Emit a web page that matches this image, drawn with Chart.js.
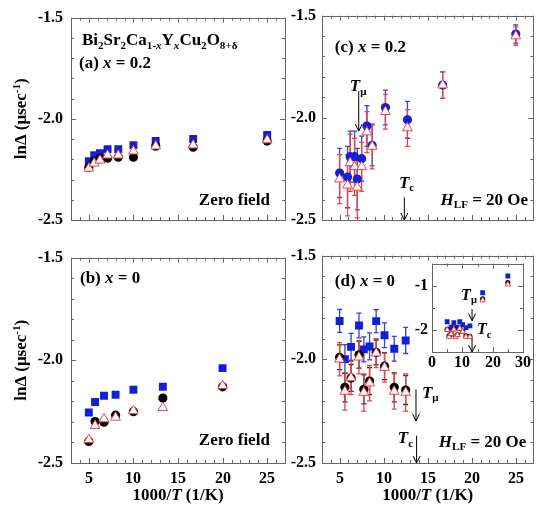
<!DOCTYPE html>
<html lang="en">
<head>
<meta charset="UTF-8">
<title>lnΔ vs 1000/T</title>
<script src="https://cdn.jsdelivr.net/npm/chart.js"></script>
<style>
    body { margin: 0; background: #fff; }
    #wrap { position: relative; width: 540px; height: 510px; }
    canvas { position: absolute; }
</style>
</head>
<body>
<div id="wrap">
    <canvas id="pa" width="300" height="240" style="left:0;top:0"></canvas>
    <canvas id="pc" width="255" height="240" style="left:285px;top:0"></canvas>
    <canvas id="pb" width="300" height="270" style="left:0;top:240px"></canvas>
    <canvas id="pd" width="255" height="270" style="left:285px;top:240px"></canvas>
    <canvas id="pi" width="135" height="125" style="left:400px;top:250px"></canvas>
</div>
<script>
    // tick labels
    const xTicks = [5, 10, 15, 20, 25];
    const yTicks = [-2.5, -2.0, -1.5];
    const insetXTicks = [0, 10, 20, 30];
    const insetYTicks = [-2, -1];

    // (a) x = 0.2, zero field
    const aX = [5, 5.6, 6.25, 7.1, 8.3, 10, 12.5, 16.7, 25];
    const aSquare = [-2.21, -2.18, -2.17, -2.15, -2.15, -2.13, -2.11, -2.10, -2.08];
    const aCircle = [-2.24, -2.21, -2.195, -2.195, -2.19, -2.19, -2.135, -2.14, -2.11];
    const aTriangle = [-2.245, -2.22, -2.205, -2.18, -2.18, -2.16, -2.135, -2.13, -2.105];

    // (b) x = 0, zero field
    const bX = [5, 5.7, 6.7, 8, 10, 13.3, 20];
    const bSquare = [-2.254, -2.203, -2.173, -2.168, -2.143, -2.129, -2.038];
    const bCircle = [-2.395, -2.298, -2.301, -2.267, -2.25, -2.184, -2.129];
    const bTriangle = [-2.387, -2.318, -2.286, -2.278, -2.246, -2.231, -2.124];

    // (c) x = 0.2, H_LF = 20 Oe
    const cX = [5.0, 5.9, 6.2, 6.7, 7.0, 7.5, 8.1, 8.7, 10.2, 12.7, 16.7, 25];
    const cCircle = [-2.27, -2.29, -2.19, -2.19, -2.30, -2.20, -2.04, -2.135, -1.95, -2.01, -1.84, -1.59];
    const cCircleErr = [0.12, 0.15, 0.125, 0.125, 0.15, 0.11, 0.1, 0.1, 0.085, 0.09, 0.065, 0.045];
    const cTriangle = [-2.30, -2.33, -2.22, -2.24, -2.34, -2.24, -2.07, -2.14, -1.97, -2.05, -1.84, -1.60];
    const cTriangleErr = [0.12, 0.15, 0.14, 0.14, 0.15, 0.12, 0.1, 0.11, 0.085, 0.09, 0.065, 0.045];

    // (d) x = 0, H_LF = 20 Oe
    const dX = [5, 5.6, 6.3, 7.2, 7.75, 8.4, 9.15, 10.1, 11.2, 12.5];
    const dSquare = [-1.815, -1.999, -1.94, -1.837, -1.952, -1.938, -1.816, -1.884, -1.949, -1.909];
    const dSquareErr = [0.055, 0.07, 0.065, 0.06, 0.06, 0.065, 0.055, 0.06, 0.06, 0.063];
    const dCircle = [-1.99, -2.135, -2.09, -1.978, -2.145, -2.105, -1.967, -2.033, -2.135, -2.148];
    const dCircleErr = [0.06, 0.07, 0.065, 0.065, 0.07, 0.065, 0.06, 0.065, 0.07, 0.07];
    const dTriangle = [-2.0, -2.155, -2.09, -1.99, -2.16, -2.115, -1.97, -2.04, -2.155, -2.16];
    const dTriangleErr = [0.08, 0.09, 0.08, 0.08, 0.09, 0.085, 0.07, 0.07, 0.085, 0.09];

    // inset of (d): extra points at low T
    const insetX = [16.7, 25];
    const insetSquare = [-1.16, -0.78];
    const insetCircle = [-1.30, -0.93];
    const insetTriangle = [-1.33, -0.97];

    const FONT = '"Liberation Serif", "Times New Roman", serif';
    const BLUE = '#1020d8';
    const RED = '#e84545';

    function pts(xs, ys) {
        return xs.map((x, i) => ({ x: x, y: ys[i] }));
    }

    // draw a list of text runs: [text, flags]  flags: i = italic, b = subscript, p = superscript
    function drawRuns(ctx, runs, x, y, align, size) {
        const parts = runs.map(r => {
            const f = r[1] || '';
            const small = f.includes('b') || f.includes('p');
            const s = small ? size * 0.65 : size;
            const font = (f.includes('i') ? 'italic ' : '') + 'bold ' + s + 'px ' + FONT;
            ctx.font = font;
            let dy = 0;
            if (f.includes('b')) dy = size * 0.3;
            if (f.includes('p')) dy = -size * 0.3;
            return { t: r[0], font: font, w: ctx.measureText(r[0]).width, dy: dy };
        });
        const total = parts.reduce((s, p) => s + p.w, 0);
        let cx = x;
        if (align === 'right') cx = x - total;
        if (align === 'center') cx = x - total / 2;
        ctx.fillStyle = '#000';
        ctx.textBaseline = 'middle';
        ctx.textAlign = 'left';
        parts.forEach(p => {
            ctx.font = p.font;
            ctx.fillText(p.t, cx, y + p.dy);
            cx += p.w;
        });
    }

    function arrow(ctx, x, y1, y2) {
        ctx.save();
        ctx.strokeStyle = '#000';
        ctx.lineWidth = 1;
        ctx.beginPath();
        ctx.moveTo(x, y1);
        ctx.lineTo(x, y2);
        ctx.moveTo(x - 3.5, y2 - 7);
        ctx.lineTo(x, y2);
        ctx.lineTo(x + 3.5, y2 - 7);
        ctx.stroke();
        ctx.restore();
    }

    const errorPlugin = {
        id: 'errbars',
        beforeDatasetsDraw(chart) {
            const ctx = chart.ctx;
            const xs = chart.scales.x, ys = chart.scales.y;
            const sets = chart.data.datasets.slice().sort((a, b) => b.order - a.order);
            sets.forEach(ds => {
                if (!ds.errors) return;
                ctx.save();
                ctx.strokeStyle = ds.errColor;
                ctx.lineWidth = 1.3;
                ds.data.forEach((p, i) => {
                    const px = xs.getPixelForValue(p.x);
                    const y1 = ys.getPixelForValue(p.y + ds.errors[i]);
                    const y2 = ys.getPixelForValue(p.y - ds.errors[i]);
                    ctx.beginPath();
                    ctx.moveTo(px, y1); ctx.lineTo(px, y2);
                    ctx.moveTo(px - 2.5, y1); ctx.lineTo(px + 2.5, y1);
                    ctx.moveTo(px - 2.5, y2); ctx.lineTo(px + 2.5, y2);
                    ctx.stroke();
                });
                ctx.restore();
            });
        }
    };

    // frame with inward ticks on all four sides
    function framePlugin(o) {
        return {
            id: 'frame',
            beforeDatasetsDraw(chart) {
                const ctx = chart.ctx;
                const a = chart.chartArea;
                const xs = chart.scales.x, ys = chart.scales.y;
                ctx.save();
                ctx.strokeStyle = '#666';
                ctx.lineWidth = 1;
                ctx.strokeRect(Math.round(a.left) + 0.5, Math.round(a.top) + 0.5,
                    Math.round(a.right - a.left), Math.round(a.bottom - a.top));
                ctx.beginPath();
                const nx = Math.round((o.xMax - o.xMin) / o.xMinor);
                for (let k = 0; k <= nx; k++) {
                    const v = o.xMin + k * o.xMinor;
                    const major = o.xTicks.some(t => Math.abs(t - v) < 1e-6);
                    const len = major ? 5 : 3;
                    const px = Math.round(xs.getPixelForValue(v)) + 0.5;
                    ctx.moveTo(px, a.bottom); ctx.lineTo(px, a.bottom - len);
                    ctx.moveTo(px, a.top); ctx.lineTo(px, a.top + len);
                }
                const ny = Math.round((o.yMax - o.yMin) / o.yMinor);
                for (let k = 0; k <= ny; k++) {
                    const v = o.yMin + k * o.yMinor;
                    const major = o.yTicks.some(t => Math.abs(t - v) < 1e-6);
                    const len = major ? 5 : 3;
                    const py = Math.round(ys.getPixelForValue(v)) + 0.5;
                    ctx.moveTo(a.left, py); ctx.lineTo(a.left + len, py);
                    ctx.moveTo(a.right, py); ctx.lineTo(a.right - len, py);
                }
                ctx.stroke();
                ctx.restore();
            }
        };
    }

    function notesPlugin(o) {
        return {
            id: 'notes',
            afterDraw(chart) {
                const ctx = chart.ctx;
                const a = chart.chartArea;
                const xs = chart.scales.x, ys = chart.scales.y;
                ctx.save();
                (o.notes || []).forEach(n => {
                    if (n.arrow) {
                        arrow(ctx, xs.getPixelForValue(n.x), ys.getPixelForValue(n.y1), ys.getPixelForValue(n.y2));
                    } else {
                        drawRuns(ctx, n.text, xs.getPixelForValue(n.x), ys.getPixelForValue(n.y), n.align || 'left', n.size || 17);
                    }
                });
                if (o.yTitle) {
                    ctx.save();
                    ctx.translate(22, (a.top + a.bottom) / 2);
                    ctx.rotate(-Math.PI / 2);
                    drawRuns(ctx, [['lnΔ (μsec'], ['-1', 'p'], [')']], 0, 0, 'center', 17);
                    ctx.restore();
                }
                if (o.xTitle) {
                    drawRuns(ctx, [['1000/'], ['T', 'i'], [' (1/K)']], (a.left + a.right) / 2, a.bottom + 33, 'center', 17);
                }
                // x tick labels, one call for the whole row, placed through the x scale
                if (o.xLabels) {
                    ctx.fillStyle = '#000';
                    ctx.font = 'bold ' + (o.tickSize || 16) + 'px ' + FONT;
                    ctx.textAlign = 'center';
                    ctx.textBaseline = 'alphabetic';
                    o.xTicks.forEach(v => {
                        ctx.fillText(String(v), Math.round(xs.getPixelForValue(v)), a.bottom + o.xLabelGap + 6);
                    });
                }
                ctx.restore();
            }
        };
    }

    function squares(data, errs, r) {
        return { data: data, order: 2, pointStyle: 'rect', pointRadius: r || 5.6,
            backgroundColor: BLUE, borderColor: BLUE, borderWidth: 0,
            errors: errs, errColor: '#3344cc' };
    }
    function circles(data, errs, color, r) {
        return { data: data, order: 1, pointStyle: 'circle', pointRadius: r || 4.6,
            backgroundColor: color, borderColor: color, borderWidth: 0,
            errors: errs, errColor: color === '#000' ? '#222' : '#3344cc' };
    }
    function triangles(data, errs, r) {
        return { data: data, order: 0, pointStyle: 'triangle', pointRadius: r || 5.6,
            backgroundColor: '#fff', borderColor: RED, borderWidth: 1,
            errors: errs, errColor: RED };
    }

    function makePanel(id, o) {
        const tickFont = { family: FONT, size: o.tickSize || 16, weight: 'bold' };
        return new Chart(document.getElementById(id), {
            type: 'scatter',
            data: { datasets: o.datasets },
            options: {
                responsive: false,
                animation: false,
                layout: { padding: o.padding },
                plugins: { legend: { display: false }, tooltip: { enabled: false } },
                scales: {
                    x: { type: 'linear', min: o.xMin, max: o.xMax, display: false },
                    y: {
                        type: 'linear', min: o.yMin, max: o.yMax,
                        afterBuildTicks: s => { s.ticks = o.yTicks.map(v => ({ value: v })); },
                        afterFit: s => { s.width = o.yWidth; },
                        grid: { display: false, drawTicks: false }, border: { display: false },
                        ticks: {
                            autoSkip: false, padding: o.yPad, color: '#000', font: tickFont,
                            callback: v => v.toFixed(o.yDec)
                        }
                    }
                }
            },
            plugins: [framePlugin(o), errorPlugin, notesPlugin(o)]
        });
    }

    const mainAxes = { xMin: 3, xMax: 27, xTicks: xTicks, xMinor: 1, yMin: -2.5, yMax: -1.5, yTicks: yTicks, yMinor: 0.1, yDec: 1 };
    const HLF = [['H', 'i'], ['LF', 'b'], [' = 20 Oe']];

    makePanel('pa', Object.assign({}, mainAxes, {
        padding: { left: 0, top: 13, right: 15, bottom: 20 }, yWidth: 71, yPad: 8, yTitle: true,
        datasets: [triangles(pts(aX, aTriangle)), circles(pts(aX, aCircle), null, '#000'), squares(pts(aX, aSquare))],
        notes: [
            { text: [['Bi'], ['2', 'b'], ['Sr'], ['2', 'b'], ['Ca'], ['1-', 'b'], ['x', 'bi'], ['Y'], ['x', 'bi'], ['Cu'], ['2', 'b'], ['O'], ['8+δ', 'b']], x: 4.23, y: -1.616 },
            { text: [['(a) '], ['x', 'i'], [' = 0.2']], x: 3.9, y: -1.727 },
            { text: [['Zero field']], x: 25.3, y: -2.403, align: 'right' }
        ]
    }));

    makePanel('pb', Object.assign({}, mainAxes, {
        padding: { left: 0, top: 11, right: 15, bottom: 47 }, yWidth: 71, yPad: 8, yTitle: true,
        xLabels: true, xLabelGap: 14, xTitle: true,
        datasets: [triangles(pts(bX, bTriangle)), circles(pts(bX, bCircle), null, '#000'), squares(pts(bX, bSquare))],
        notes: [
            { text: [['(b) '], ['x', 'i'], [' = 0']], x: 4.01, y: -1.604 },
            { text: [['Zero field']], x: 25.3, y: -2.392, align: 'right' }
        ]
    }));

    makePanel('pc', Object.assign({}, mainAxes, {
        padding: { left: 0, top: 13, right: 5, bottom: 20 }, yWidth: 37, yPad: 6,
        datasets: [triangles(pts(cX, cTriangle), cTriangleErr), circles(pts(cX, cCircle), cCircleErr, BLUE)],
        notes: [
            { text: [['(c) '], ['x', 'i'], [' = 0.2']], x: 4.46, y: -1.655 },
            { text: HLF, x: 26.4, y: -2.403, align: 'right' },
            { text: [['T', 'i'], ['μ', 'b']], x: 7.1, y: -1.848, align: 'center' },
            { arrow: true, x: 7.17, y1: -1.87, y2: -2.065 },
            { text: [['T', 'i'], ['c', 'b']], x: 12.6, y: -2.32, align: 'center' },
            { arrow: true, x: 12.35, y1: -2.389, y2: -2.5 }
        ]
    }));

    makePanel('pd', Object.assign({}, mainAxes, {
        padding: { left: 0, top: 11, right: 5, bottom: 47 }, yWidth: 37, yPad: 6,
        xLabels: true, xLabelGap: 14, xTitle: true,
        datasets: [triangles(pts(dX, dTriangle), dTriangleErr), circles(pts(dX, dCircle), dCircleErr, '#000'), squares(pts(dX, dSquare), dSquareErr)],
        notes: [
            { text: [['(d) '], ['x', 'i'], [' = 0']], x: 4.46, y: -1.623 },
            { text: HLF, x: 26.2, y: -2.40, align: 'right' },
            { text: [['T', 'i'], ['μ', 'b']], x: 14.35, y: -2.164 },
            { arrow: true, x: 13.67, y1: -2.146, y2: -2.297 },
            { text: [['T', 'i'], ['c', 'b']], x: 11.6, y: -2.384 },
            { arrow: true, x: 13.74, y1: -2.368, y2: -2.5 }
        ]
    }));

    // inset: panel (d) data plus the two low-temperature points
    makePanel('pi', {
        xMin: 0, xMax: 30, xTicks: insetXTicks, xMinor: 5, yMin: -2.5, yMax: -0.5, yTicks: insetYTicks, yMinor: 0.5, yDec: 0,
        padding: { left: 0, top: 11, right: 12, bottom: 23 }, yWidth: 32, yPad: 4,
        xLabels: true, xLabelGap: 9, tickSize: 16,
        datasets: [
            triangles(pts(dX.concat(insetX), dTriangle.concat(insetTriangle)), null, 3.2),
            circles(pts(dX.concat(insetX), dCircle.concat(insetCircle)), null, '#000', 2.6),
            squares(pts(dX.concat(insetX), dSquare.concat(insetSquare)), null, 3.4)
        ],
        notes: [
            { text: [['T', 'i'], ['μ', 'b']], x: 9.6, y: -1.22, size: 16 },
            { arrow: true, x: 13.2, y1: -1.53, y2: -1.79 },
            { text: [['T', 'i'], ['c', 'b']], x: 14.85, y: -2.01, size: 16 },
            { arrow: true, x: 13.2, y1: -2.19, y2: -2.5 }
        ]
    });
</script>
</body>
</html>
